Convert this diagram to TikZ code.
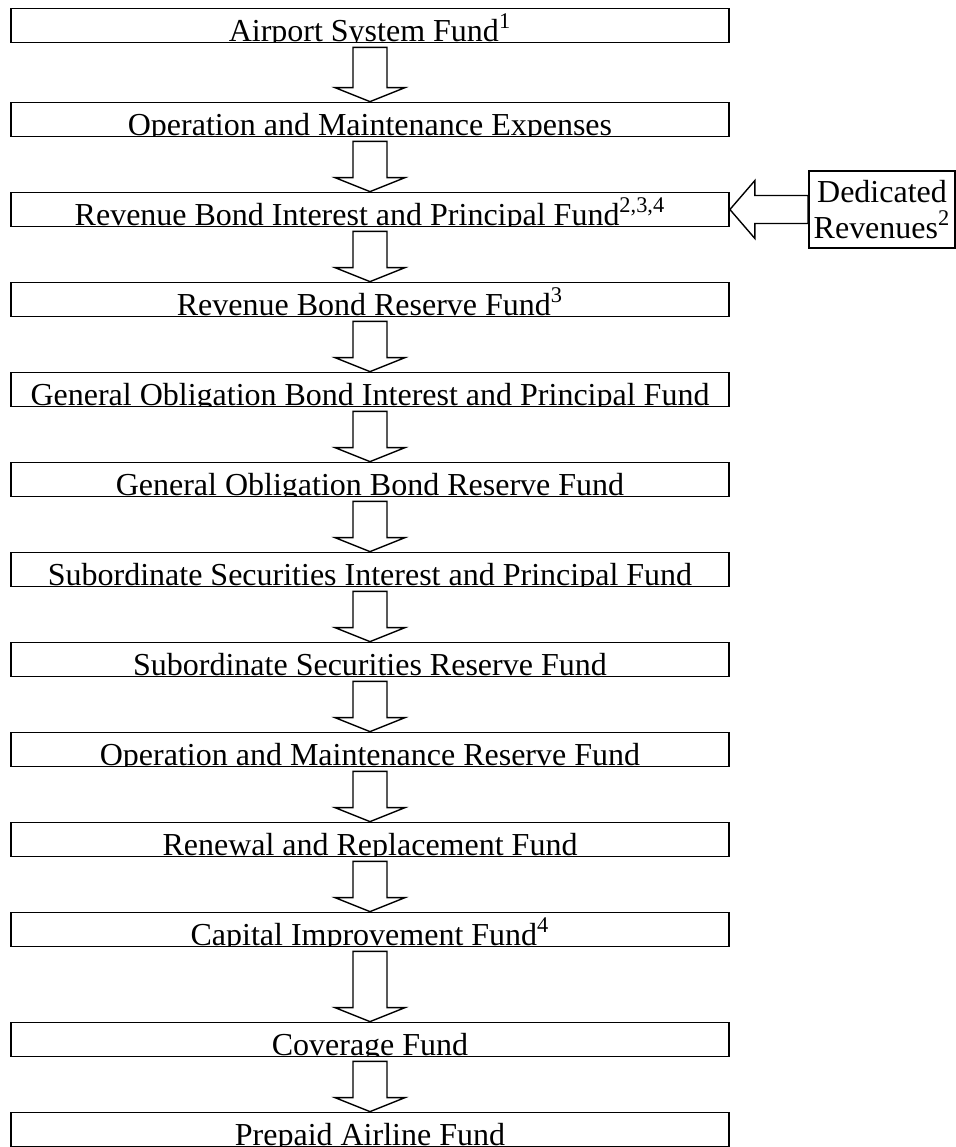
\documentclass[tikz,border=0pt]{standalone}
\usepackage{fontspec}
\setmainfont{Liberation Serif}
\usetikzlibrary{calc, arrows}
% the text sits on the bottom line and is cut by the box
\tikzstyle{fund} = [draw, rectangle, line width=0.9pt, minimum width=359pt,
minimum height=17pt, inner sep=0pt, path picture={
  \node [anchor=base, inner sep=0pt] at ([yshift=0.6pt]path picture bounding box.south) {#1};}]
\tikzstyle{source} = [draw, rectangle, line width=0.9pt, minimum width=73pt,
minimum height=38.5pt, inner sep=0pt, align=center]
\tikzstyle{hollow} = [draw, line width=0.7pt, line join=miter]

% hollow block arrow from the bottom of #1 to the top of #2
\newcommand{\flowdown}[2]{%
  \draw[hollow] ($(#1.south)+(-8.5pt,-2pt)$) -- ($(#2.north)+(-8.5pt,7pt)$)
    -- ++(-9pt,0) -- (#2.north) -- ($(#2.north)+(17.5pt,7pt)$) -- ++(-9pt,0)
    -- ($(#1.south)+(8.5pt,-2pt)$) -- cycle;}

\begin{document}
\begin{tikzpicture}[node distance=45pt, font=\fontsize{16}{18}\selectfont]
  \useasboundingbox (-185pt,12.75pt) rectangle (293pt,-560.75pt);
      \node [fund={Airport System Fund\textsuperscript{1}}] (asf) {};
      \node [fund={Operation and Maintenance Expenses}] (ome) [below of=asf, node distance=47pt] {};
      \node [fund={Revenue Bond Interest and Principal Fund\textsuperscript{2,3,4}}] (rbip) [below of=ome] {};
      \node [fund={Revenue Bond Reserve Fund\textsuperscript{3}}] (rbrf) [below of=rbip] {};
      \node [fund={General Obligation Bond Interest and Principal Fund}] (gobip) [below of=rbrf] {};
      \node [fund={General Obligation Bond Reserve Fund}] (gobrf) [below of=gobip] {};
      \node [fund={Subordinate Securities Interest and Principal Fund}] (ssip) [below of=gobrf] {};
      \node [fund={Subordinate Securities Reserve Fund}] (ssrf) [below of=ssip] {};
      \node [fund={Operation and Maintenance Reserve Fund}] (omrf) [below of=ssrf] {};
      \node [fund={Renewal and Replacement Fund}] (rrf) [below of=omrf] {};
      \node [fund={Capital Improvement Fund\textsuperscript{4}}] (cif) [below of=rrf] {};
      \node [fund={Coverage Fund}] (cf) [below of=cif, node distance=55pt] {};
      \node [fund={Prepaid Airline Fund}] (paf) [below of=cf] {};
      \node [source] (dr) [right of=rbip, node distance=256pt] {Dedicated\\Revenues\textsuperscript{2}};
      \foreach \a/\b in {asf/ome, ome/rbip, rbip/rbrf, rbrf/gobip, gobip/gobrf,
        gobrf/ssip, ssip/ssrf, ssrf/omrf, omrf/rrf, rrf/cif, cif/cf, cf/paf}
        \flowdown{\a}{\b};
      \draw[hollow] (rbip.east) -- ($(rbip.east)+(12.5pt,14.5pt)$) -- ($(rbip.east)+(12.5pt,7pt)$)
        -- ($(dr.west)+(0,7pt)$) -- ($(dr.west)+(0,-7pt)$) -- ($(rbip.east)+(12.5pt,-7pt)$)
        -- ($(rbip.east)+(12.5pt,-14.5pt)$) -- cycle;
  \end{tikzpicture}
\end{document}
